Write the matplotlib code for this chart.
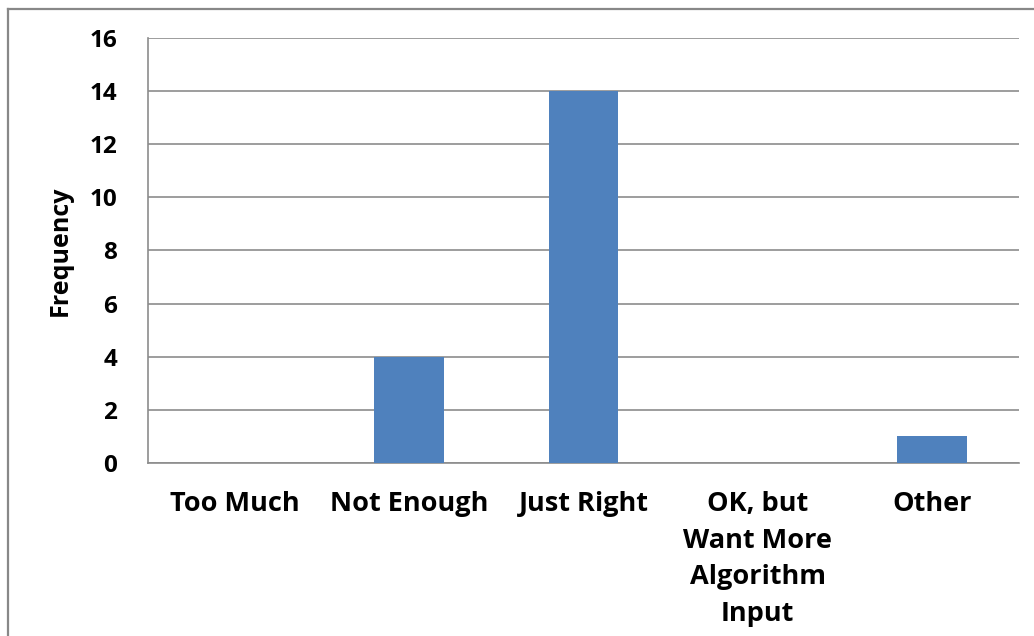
import matplotlib
matplotlib.use("Agg")
import matplotlib.pyplot as plt
from matplotlib.lines import Line2D

categories = ["Too Much", "Not Enough", "Just Right", "OK, but\nWant More\nAlgorithm\nInput", "Other"]
frequency = [0, 4, 14, 0, 1]
yticks = [0, 2, 4, 6, 8, 10, 12, 14, 16]

bar_color = "#4F81BD"
grid_color = "#8C8C8C"

plt.rcParams["font.family"] = ["Open Sans", "DejaVu Sans"]
plt.rcParams["font.weight"] = "bold"

fig = plt.figure(figsize=(10.34, 6.36), dpi=100)
ax = fig.add_axes([0.1431, 0.2720, 0.8424, 0.6683])

x = list(range(len(categories)))
ax.bar(x, frequency, width=0.4, color=bar_color, zorder=3)

ax.set_xlim(-0.5, len(categories) - 0.5)
ax.set_ylim(0, 16)
ax.set_yticks(yticks)
ax.set_xticks(x)
ax.set_xticklabels(categories, fontsize=19.5, fontweight="bold", linespacing=1.52, va="top")
ax.set_yticklabels([str(t) for t in yticks], fontsize=17.5, fontweight="bold")
ax.tick_params(axis="both", length=0)
ax.tick_params(axis="x", pad=20.5)
ax.tick_params(axis="y", pad=22)

ax.yaxis.grid(True, color=grid_color, linewidth=1.2, zorder=0)
for side in ["top", "right"]:
    ax.spines[side].set_visible(False)
ax.spines["left"].set_color(grid_color)
ax.spines["bottom"].set_color(grid_color)
ax.spines["left"].set_linewidth(1.2)
ax.spines["bottom"].set_linewidth(1.2)

ax.set_ylabel("Frequency", fontsize=18, fontweight="bold")
ax.yaxis.set_label_coords(-0.086, 0.5)

# outer chart frame, running off the right and bottom edges
W, H = 1034, 636
fig.add_artist(Line2D([7.5 / W, 7.5 / W], [0, 1 - 9 / H], transform=fig.transFigure,
                      color="#888888", linewidth=1.6))
fig.add_artist(Line2D([7.5 / W, 1], [1 - 9 / H, 1 - 9 / H], transform=fig.transFigure,
                      color="#888888", linewidth=1.6))

fig.savefig("out.png", dpi=100)
